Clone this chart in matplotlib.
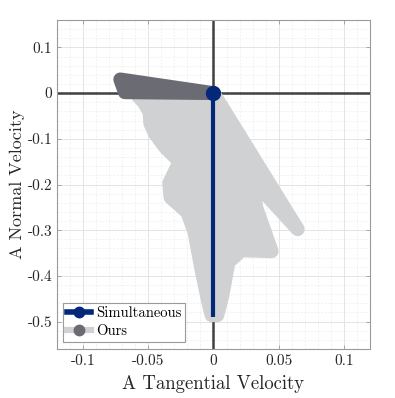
import numpy as np
import matplotlib
matplotlib.use("Agg")
import matplotlib.pyplot as plt
from matplotlib.lines import Line2D
from matplotlib.ticker import MultipleLocator, FuncFormatter

plt.rcParams.update({"font.family": "cmr10", "axes.unicode_minus": False,
                     "axes.formatter.use_mathtext": True})

NAVY = "#03287a"; CLARO = "#d0d1d3"; ESCURO = "#6b6c73"; EIXO = "#404040"

# Simultaneous: reta vertical a partir da origem
sim_x = [0.0, 0.0]
sim_y = [0.0, -0.489]

# Ours: contorno da trajetória (centro do traço grosso)
ours_x = [0.0, 0.0646, 0.0285, 0.033, 0.0446, 0.0215, 0.0115, 0.0069, 0.003,
          -0.0015, -0.0038, -0.0092, -0.0146, -0.020, -0.033, -0.034, -0.026,
          -0.037, -0.045, -0.0485, -0.049, -0.0535, -0.058, 0.0]
ours_y = [0.0, -0.298, -0.186, -0.252, -0.346, -0.344, -0.370, -0.442, -0.486,
          -0.486, -0.460, -0.387, -0.304, -0.261, -0.228, -0.197, -0.150,
          -0.119, -0.088, -0.066, -0.042, -0.020, -0.006, 0.0]

# Ours: marcadores (faixa escura perto da origem)
mark_x = [0.0, -0.0715, -0.068, 0.0]
mark_y = [0.0, 0.030, 0.002, 0.0]

xticks = [-0.1, -0.05, 0, 0.05, 0.1]
yticks = [0.1, 0, -0.1, -0.2, -0.3, -0.4, -0.5]

fig = plt.figure(figsize=(3.95, 3.98), dpi=100)
ax = fig.add_axes([0.1443, 0.1231, 0.7924, 0.8266])

ax.axhline(0, color=EIXO, lw=1.8, zorder=1)
ax.axvline(0, color=EIXO, lw=1.8, zorder=1)

ax.fill(ours_x, ours_y, color=CLARO, lw=0, zorder=2)
ax.plot(ours_x, ours_y, color=CLARO, lw=10, solid_joinstyle="round",
        solid_capstyle="round", zorder=2)
ax.fill(mark_x, mark_y, color=ESCURO, lw=0, zorder=3)
ax.plot(mark_x, mark_y, color=ESCURO, lw=10, solid_joinstyle="round",
        solid_capstyle="round", zorder=3)

ax.plot(sim_x, sim_y, color=NAVY, lw=3, solid_capstyle="butt", zorder=4)
ax.plot(sim_x[:1], sim_y[:1], "o", color=NAVY, ms=10, zorder=5)

ax.set_xlim(-0.12, 0.12); ax.set_ylim(-0.56, 0.16)
ax.set_xticks(xticks); ax.set_yticks(yticks)
fmt = FuncFormatter(lambda v, p: f"{v:g}")
ax.xaxis.set_major_formatter(fmt); ax.yaxis.set_major_formatter(fmt)
ax.xaxis.set_minor_locator(MultipleLocator(0.01))
ax.yaxis.set_minor_locator(MultipleLocator(0.02))
ax.tick_params(which="both", direction="in", top=True, right=True,
               labelsize=11, colors="#262626")
ax.tick_params(which="major", length=3, width=0.6, color="#9a9a9a")
ax.tick_params(which="minor", length=0)
ax.grid(which="major", color="#e4e4e4", lw=0.7, zorder=0)
ax.grid(which="minor", color="#ededed", lw=0.5, ls=(0, (3, 2)), zorder=0)
ax.set_axisbelow(True)
for s in ax.spines.values():
    s.set_color("#9a9a9a"); s.set_linewidth(0.8)

ax.set_xlabel("A Tangential Velocity", fontsize=13.5, color="#262626", labelpad=5)
ax.set_ylabel("A Normal Velocity", fontsize=13, color="#262626", labelpad=2)

handles = [Line2D([], [], color=NAVY, lw=4, marker="o", ms=7.5),
           Line2D([], [], color=CLARO, lw=4.5, marker="o", ms=7.5,
                  markerfacecolor=ESCURO, markeredgecolor=ESCURO)]
leg = ax.legend(handles, ["Simultaneous", "Ours"], loc="lower left",
                bbox_to_anchor=(0.019, 0.021), fontsize=10.5, handlelength=1.7,
                handletextpad=0.3, borderpad=0.25, labelspacing=0.3,
                fancybox=False, framealpha=1, edgecolor="#9a9a9a", borderaxespad=0)
leg.get_frame().set_linewidth(0.8)

fig.savefig("out.png", dpi=100)
